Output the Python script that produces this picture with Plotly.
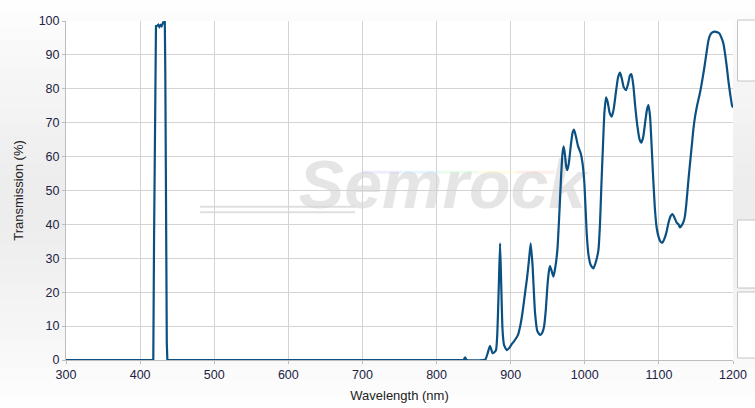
import plotly.graph_objects as go

# ---------------- data ----------------
wavelength_nm = [
    300, 417.8, 418.8, 419.8, 420.7, 421.4, 423, 424.5, 426, 427.5, 429, 430.5, 431.5, 432.5, 433.3,
    434.0, 434.6, 435.2, 436.0, 436.8,
    836.5, 838.5, 840.5,
    862, 866, 869, 872, 874, 875.5, 878, 880.3, 882, 884, 885.7, 887.3, 889, 891, 894.7, 898, 901.4,
    904.5, 907.3, 910, 912.7, 916, 919.4, 922, 924.5, 927, 929.5, 932.9, 936, 939.6, 942.5, 945,
    947.5, 949.5, 951.5, 953, 955, 957.6, 960, 963, 965.7, 968, 970, 971.5, 973, 975, 976.5, 978.5,
    981, 983.5, 985.5, 988, 991, 994.5, 997, 999.5, 1002.6, 1005, 1008, 1011.6, 1015, 1018.4,
    1020.5, 1022.5, 1024.5, 1026.5, 1028.7, 1031, 1033.5, 1036.4, 1039, 1042, 1045, 1047.6, 1050,
    1052.5, 1055.7, 1058.5, 1061, 1063, 1065.5, 1068, 1071, 1074, 1076.4, 1079, 1082, 1084, 1085.9,
    1088, 1090, 1092, 1094.5, 1097, 1100, 1102.5, 1104.7, 1107, 1110, 1113, 1116, 1118.7, 1121,
    1124, 1126.5, 1128.5, 1131, 1133.5, 1135, 1137, 1139.8, 1142, 1144.3, 1146.5, 1148.8, 1152,
    1155.6, 1158.5, 1161.5, 1164.5, 1167, 1170, 1173.6, 1177, 1181.7, 1184.5, 1187, 1189.5, 1191.6,
    1194, 1196.5, 1198.8, 1200,
]
transmission_pct = [
    0, 0, 35, 75, 95, 98.5, 98.6, 98.9, 98.3, 98.8, 98.5, 99.2, 99.8, 99.3, 100,
    85, 55, 25, 5, 0,
    0, 0.8, 0,
    0, 0.2, 2, 4.2, 3, 2, 2.3, 3, 7.9, 22, 34.4, 22, 9, 4.5, 2.9, 3.5, 4.7,
    5.5, 6.4, 7.5, 9.8, 14, 19.7, 24, 29, 34.4, 28, 13.8, 8.5, 7.4, 8, 9.8,
    15, 21.6, 26, 27.7, 26.5, 24.6, 27, 32.4, 43.3, 54, 61, 63, 61, 57, 56, 58,
    63, 67, 68, 66, 63, 61, 58, 52, 37.4, 31, 28, 27, 29, 32.4,
    40, 52, 63, 73, 77.5, 76, 73, 71.8, 74, 79, 83.5, 84.8, 83,
    80.5, 79.6, 81.5, 84, 84.3, 81, 75, 69, 65, 64.1, 66, 71, 74, 75.2,
    72, 64, 55, 45, 39, 36, 34.8, 34.6, 35.5, 37.5, 40.5, 42.5, 43, 42,
    40.5, 40, 39.1, 39.8, 41, 42.3, 46, 53, 58, 63, 68, 71.8, 75.5,
    79, 82.5, 86.5, 91, 94.4, 96.2, 96.8, 96.8, 96.3, 95, 93.4, 90, 86.5,
    82, 78, 75, 74.5,
]
x_ticks = [300, 400, 500, 600, 700, 800, 900, 1000, 1100, 1200]
y_ticks = [0, 10, 20, 30, 40, 50, 60, 70, 80, 90, 100]
watermark_text = "Semrock"

# ---------------- styling ----------------
LINE_COLOR = "#0b5082"
GRID = "#d3d3d3"
FONT = "Liberation Sans, Arial, sans-serif"

fig = go.Figure()

# watermark (drawn first so the curve sits on top)
fig.add_trace(go.Scatter(
    x=[808], y=[50], mode="text", text=[f"<b><i>{watermark_text}</i></b>"],
    textfont=dict(size=68, color="rgba(212,212,212,0.6)", family=FONT),
    hoverinfo="skip", showlegend=False,
))
# swoosh lines of the watermark
for yy in (45.2, 43.6):
    fig.add_trace(go.Scatter(
        x=[481, 690], y=[yy, yy], mode="lines",
        line=dict(color="rgba(212,212,212,0.75)", width=2),
        hoverinfo="skip", showlegend=False,
    ))
# faint rainbow streak
rainbow = ["rgba(210,200,255,0.35)", "rgba(190,230,255,0.35)", "rgba(200,255,210,0.35)",
           "rgba(255,250,190,0.35)", "rgba(255,210,200,0.35)"]
xs = [700, 752, 804, 856, 908, 960]
for i, c in enumerate(rainbow):
    fig.add_trace(go.Scatter(
        x=[xs[i], xs[i + 1]], y=[55.4, 55.4], mode="lines",
        line=dict(color=c, width=3), hoverinfo="skip", showlegend=False,
    ))

# curve: steep pass band drawn linear, long-wave region drawn smooth
split = next(i for i, w in enumerate(wavelength_nm) if w >= 836)
fig.add_trace(go.Scatter(
    x=wavelength_nm[:split + 1], y=transmission_pct[:split + 1], mode="lines",
    line=dict(color=LINE_COLOR, width=2.2), showlegend=False,
))
fig.add_trace(go.Scatter(
    x=wavelength_nm[split:], y=transmission_pct[split:], mode="lines",
    line=dict(color=LINE_COLOR, width=2.2, shape="spline", smoothing=0.5),
    showlegend=False,
))

# page background gradient bands (paper coordinates, behind plot area)
shapes = []
n = 30
for i in range(n):
    t = (i + 0.5) / n  # 0 top -> 1 bottom
    d = abs(t - 0.5) * 2
    g = int(237 + 18 * d ** 1.3)
    col = f"rgb({g},{g},{g})"
    y1 = 1 + 21 / 339 - i * (408 / 339) / n
    y0 = y1 - (408 / 339) / n - 0.002
    shapes.append(dict(type="rect", xref="paper", yref="paper", x0=-0.2, x1=1.2,
                       y0=y0, y1=y1, fillcolor=col, line=dict(width=0), layer="below"))
# keep the plotting area itself white
shapes.append(dict(type="rect", xref="paper", yref="paper", x0=0, x1=1, y0=0, y1=1,
                   fillcolor="#ffffff", line=dict(width=0), layer="below"))

# right side panels
def px2x(px):
    return (px - 66) / 667

def py2y(py):
    return (360 - py) / 339

for top, bot in [(20, 81), (220, 288), (292, 358)]:
    shapes.append(dict(type="rect", xref="paper", yref="paper",
                       x0=px2x(737.5), x1=px2x(770), y0=py2y(bot), y1=py2y(top),
                       fillcolor="#ffffff", line=dict(color="#c4c4c4", width=1), layer="above"))

fig.update_layout(
    width=755, height=408,
    margin=dict(l=66, r=22, t=21, b=48),
    paper_bgcolor="#f4f4f4",
    plot_bgcolor="#ffffff",
    shapes=shapes,
    font=dict(family=FONT, size=12, color="#222222"),
    xaxis=dict(
        range=[300, 1200], tickvals=x_ticks, ticktext=[str(v) for v in x_ticks],
        automargin=False,
        showgrid=True, gridcolor=GRID, gridwidth=1,
        showline=True, linecolor="#bdbdbd", linewidth=1,
        ticks="outside", ticklen=3, tickcolor="#bdbdbd",
        zeroline=False,
        title=dict(text="Wavelength (nm)", standoff=9, font=dict(size=13, color="#222222")),
        tickfont=dict(size=12.5, color="#222244"),
    ),
    yaxis=dict(
        range=[0, 100], tickvals=y_ticks,
        automargin=False,
        showgrid=True, gridcolor=GRID, gridwidth=1,
        showline=True, linecolor="#bdbdbd", linewidth=1,
        ticks="outside", ticklen=3, tickcolor="#bdbdbd",
        zeroline=False,
        title=dict(text="Transmission (%)", standoff=12, font=dict(size=13, color="#222222")),
        tickfont=dict(size=12.5, color="#222244"),
    ),
)

fig.write_html(
    "out.html",
    config={"displayModeBar": False},
    post_script="document.body.style.margin='0px';document.body.style.overflow='hidden';",
)
